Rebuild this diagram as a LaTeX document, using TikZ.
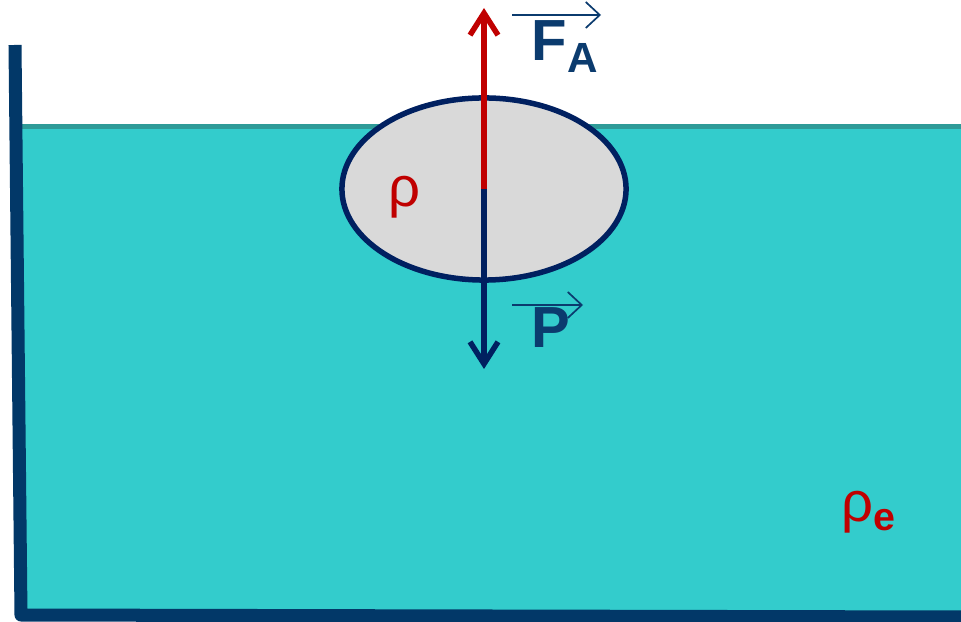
\documentclass[tikz,border=0pt]{standalone}
\usepackage{fontspec}
\setmainfont{Liberation Sans}
\usepackage{xcolor}
\usepackage{tikz}
\usetikzlibrary{arrows.meta,positioning,shapes.geometric}

\definecolor{water}{HTML}{33CCCC}
\definecolor{waterline}{HTML}{2E9B98}
\definecolor{tank}{HTML}{023868}
\definecolor{navy}{HTML}{002060}
\definecolor{labelblue}{HTML}{0B3B6E}
\definecolor{darkred}{HTML}{C00000}
\definecolor{bodygray}{HTML}{D9D9D9}

\begin{document}
\begin{tikzpicture}[
    x=0.01cm, y=-0.01cm,
    wall/.style={draw=tank, line width=0.13cm, line join=round},
    body/.style={ellipse, draw=navy, line width=0.055cm, fill=bodygray, minimum width=2.84cm, minimum height=1.82cm, inner sep=0pt},
    force/.style={line width=0.055cm, -{Straight Barb[length=2.2mm, width=2.8mm, line width=0.055cm]}},
    vec/.style={draw=labelblue, line width=0.017cm, -{Straight Barb[length=1.4mm, width=2.6mm, line width=0.017cm]}},
    vlabel/.style={text=labelblue, font=\fontsize{16.5}{18}\selectfont\bfseries, inner sep=0pt, anchor=base west},
    rholabel/.style={text=darkred, font=\fontsize{16}{18}\selectfont, inner sep=0pt}
  ]
    \useasboundingbox (0,0) rectangle (961,622);
    % liquid
    \fill[water] (20,127) rectangle (961,614);
    \draw[waterline, line width=0.05cm] (20,127) -- (961,127);
    % container
    \draw[wall] (15,45) -- (21,615) -- (961,617);
    % floating body
    \node[body] (ball) at (484,189) {};
    \node[rholabel] (rho) at (404,197) {ρ};
    \node[rholabel] (rhoe) at (869,512) {ρ\textsubscript{\bfseries e}};
    % forces
    \coordinate (top) at (484,8);
    \coordinate (bot) at (484,369);
    \draw[force, darkred] (ball.center) -- (top);
    \draw[force, navy] (ball.center) -- (bot);
    \node[vlabel] (fa) at (531,61) {F\raisebox{-3.2pt}{\fontsize{12}{14}\selectfont A}};
    \node[vlabel] (p) at (531,348) {P};
    \coordinate (faL) at (512,15);
    \coordinate (faR) at (601,15);
    \coordinate (pL) at (512,305);
    \coordinate (pR) at (583,305);
    \draw[vec] (faL) -- (faR);
    \draw[vec] (pL) -- (pR);
  \end{tikzpicture}
\end{document}
